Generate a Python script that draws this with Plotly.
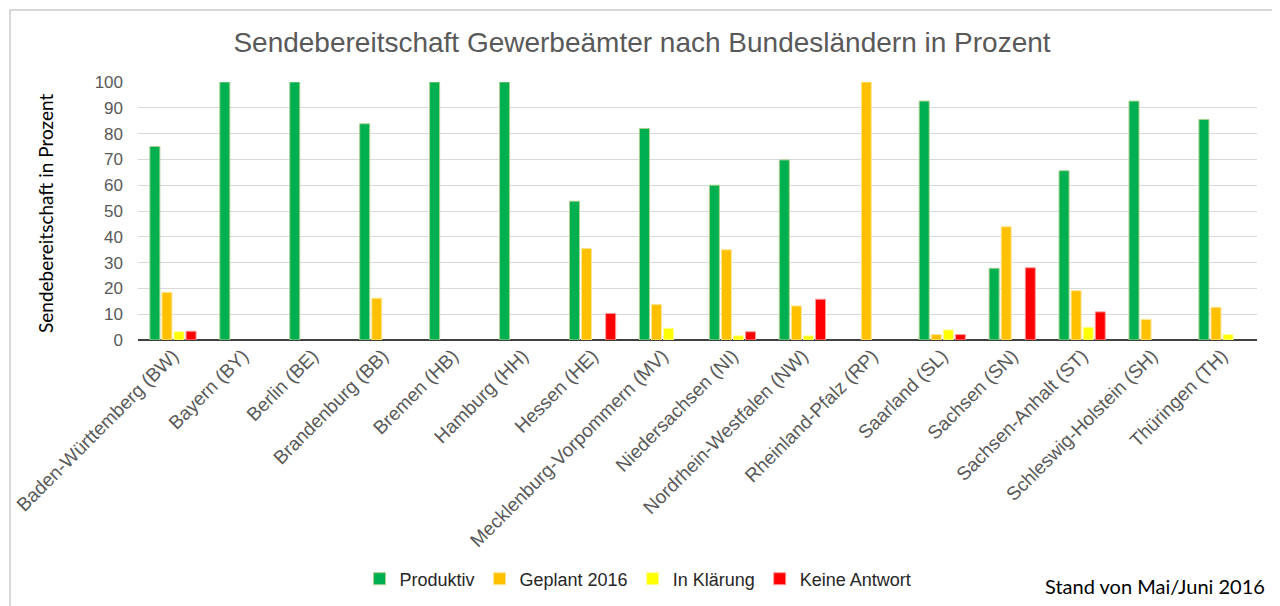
import plotly.graph_objects as go

laender = ['Baden-Württemberg (BW)', 'Bayern (BY)', 'Berlin (BE)', 'Brandenburg (BB)',
           'Bremen (HB)', 'Hamburg (HH)', 'Hessen (HE)', 'Mecklenburg-Vorpommern (MV)',
           'Niedersachsen (NI)', 'Nordrhein-Westfalen (NW)', 'Rheinland-Pfalz (RP)',
           'Saarland (SL)', 'Sachsen (SN)', 'Sachsen-Anhalt (ST)', 'Schleswig-Holstein (SH)',
           'Thüringen (TH)']

produktiv = [75, 100, 100, 83.8, 100, 100, 53.8, 82, 60, 69.8, 0, 92.6, 27.8, 65.6, 92.6, 85.5]
geplant = [18.5, 0, 0, 16.2, 0, 0, 35.5, 13.8, 35, 13.2, 100, 2.1, 43.9, 19.1, 8, 12.7]
in_klaerung = [3.2, 0, 0, 0, 0, 0, 0, 4.5, 1.6, 1.6, 0, 3.9, 0, 4.9, 0, 2.1]
keine_antwort = [3.4, 0, 0, 0, 0, 0, 10.3, 0, 3.2, 15.8, 0, 2.1, 28, 10.9, 0, 0]

serien = [
    ('Produktiv', produktiv, '#00B050', '#A9D18E'),
    ('Geplant 2016', geplant, '#FFC000', '#FFE699'),
    ('In Klärung', in_klaerung, '#FFFF00', '#FFFF99'),
    ('Keine Antwort', keine_antwort, '#FF0000', '#FF9999'),
]

# die Seite hat 8px Rand, Plotfläche im Bild: x 138..1257, y 82..340
OFF = 8
L, R, T, B = 138, 1257, 82, 340
W, H = 1280 - OFF, 606 - OFF


def px(x):
    return (x - L) / (R - L)


def py(y):
    return (B - y) / (B - T)


fig = go.Figure()
for name, werte, farbe, rand in serien:
    fig.add_trace(go.Bar(x=laender, y=[v if v else None for v in werte], name=name,
                         marker=dict(color=farbe, line=dict(color=rand, width=1))))

fig.update_layout(
    width=W, height=H,
    paper_bgcolor='white', plot_bgcolor='white',
    margin=dict(l=L - OFF, r=W - (R - OFF), t=T - OFF, b=H - (B - OFF), autoexpand=False),
    barmode='group', bargap=0.31, bargroupgap=0.17,
    font=dict(family='Liberation Sans, Arial, sans-serif', color='#595959'),
    title=dict(text='Sendebereitschaft Gewerbeämter nach Bundesländern in Prozent',
               x=px(642), xref='paper', xanchor='center', y=1 - (42 - OFF) / H, yanchor='middle',
               font=dict(size=28, color='#595959')),
    legend=dict(orientation='h', x=px(638), xanchor='center', y=py(579), yanchor='middle',
                font=dict(size=18, color='#262626'), traceorder='normal',
                itemwidth=30, tracegroupgap=0),
    showlegend=True,
)

fig.update_xaxes(tickangle=-45, tickfont=dict(size=19, color='#595959'),
                 showgrid=False, showline=False, ticks='')
fig.update_yaxes(range=[0, 100], dtick=10, tickfont=dict(size=17, color='#595959'),
                 showgrid=True, gridcolor='#D9D9D9', gridwidth=1,
                 zeroline=True, zerolinecolor='#404040', zerolinewidth=2,
                 ticks='', ticklabelstandoff=14)

fig.add_annotation(text='Sendebereitschaft in Prozent', textangle=-90,
                   xref='paper', yref='paper', x=px(45), y=py(213),
                   xanchor='center', yanchor='middle', showarrow=False,
                   font=dict(family='Lato, sans-serif', size=19, color='#000000'))
fig.add_annotation(text='Stand von Mai/Juni 2016',
                   xref='paper', yref='paper', x=px(1267), y=py(586),
                   xanchor='right', yanchor='middle', showarrow=False,
                   font=dict(family='Lato, sans-serif', size=20, color='#000000'))

# Rahmen um das Diagramm
fig.add_shape(type='rect', xref='paper', yref='paper',
              x0=px(10), x1=px(1277), y0=py(620), y1=py(10),
              line=dict(color='#D9D9D9', width=2), layer='below')

fig.write_html('out.html')
